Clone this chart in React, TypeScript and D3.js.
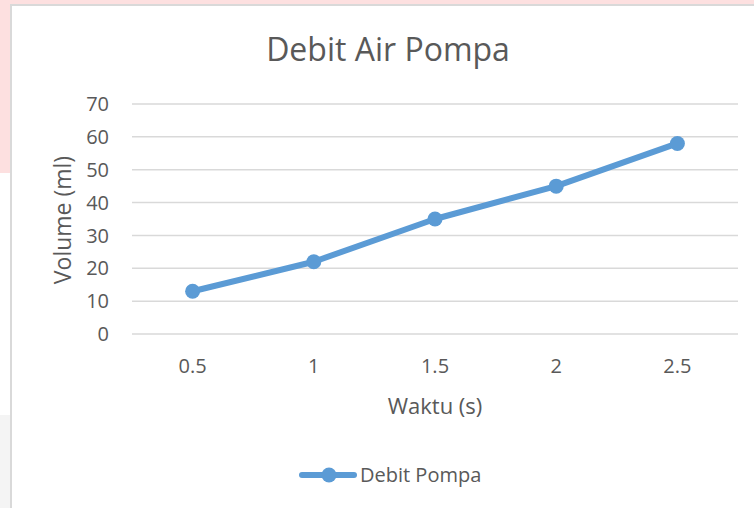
import React from 'react'
import * as d3 from 'd3'

const waktu = ['0.5', '1', '1.5', '2', '2.5']
const volume = [13, 22, 35, 45, 58]
const yTicks = [0, 10, 20, 30, 40, 50, 60, 70]
const seriesName = 'Debit Pompa'

export default function App() {
  const W = 754
  const H = 508
  const font = "'Open Sans', sans-serif"
  const grey = '#595959'
  const blue = '#5B9BD5'

  const x = d3.scaleBand().domain(waktu).range([132, 738])
  const y = d3.scaleLinear().domain([0, 70]).range([334, 104])

  const line = d3.line<number>()
    .x((d, i) => x(waktu[i])! + x.bandwidth() / 2)
    .y(d => y(d))

  return (
    <svg width={W} height={H} style={{ position: 'absolute', left: 0, top: 0 }}>
      {/* page background bits around the chart */}
      <rect x={0} y={0} width={W} height={H} fill="#fff" />
      <rect x={0} y={0} width={W} height={173} fill="#fde0e0" />
      <rect x={0} y={415} width={11} height={93} fill="#f4f4f4" />
      <rect x={11} y={5} width={W} height={H} fill="#fff" stroke="#d9d9d9" strokeWidth={2} />

      <text x={388} y={61} textAnchor="middle" fontFamily={font} fontSize={32} fill={grey}>Debit Air Pompa</text>

      {yTicks.map(t => (
        <g key={t}>
          <line x1={132} x2={738} y1={y(t)} y2={y(t)} stroke="#d9d9d9" strokeWidth={1.5} />
          <text x={109} y={y(t)} dy="0.36em" textAnchor="end" fontFamily={font} fontSize={20} fill={grey}>{t}</text>
        </g>
      ))}

      {waktu.map(w => (
        <text key={w} x={x(w)! + x.bandwidth() / 2} y={373} textAnchor="middle" fontFamily={font} fontSize={20} fill={grey}>{w}</text>
      ))}

      <text transform="translate(71,220) rotate(-90)" textAnchor="middle" fontFamily={font} fontSize={23} fill={grey}>Volume (ml)</text>
      <text x={435} y={414} textAnchor="middle" fontFamily={font} fontSize={22} fill={grey}>Waktu (s)</text>

      <path d={line(volume)!} fill="none" stroke={blue} strokeWidth={6} strokeLinejoin="round" strokeLinecap="round" />
      {volume.map((v, i) => (
        <circle key={i} cx={x(waktu[i])! + x.bandwidth() / 2} cy={y(v)} r={7.5} fill={blue} />
      ))}

      <line x1={302} x2={354} y1={475} y2={475} stroke={blue} strokeWidth={6} strokeLinecap="round" />
      <circle cx={329} cy={475} r={7.5} fill={blue} />
      <text x={360} y={482} fontFamily={font} fontSize={20} fill={grey}>{seriesName}</text>
    </svg>
  )
}
